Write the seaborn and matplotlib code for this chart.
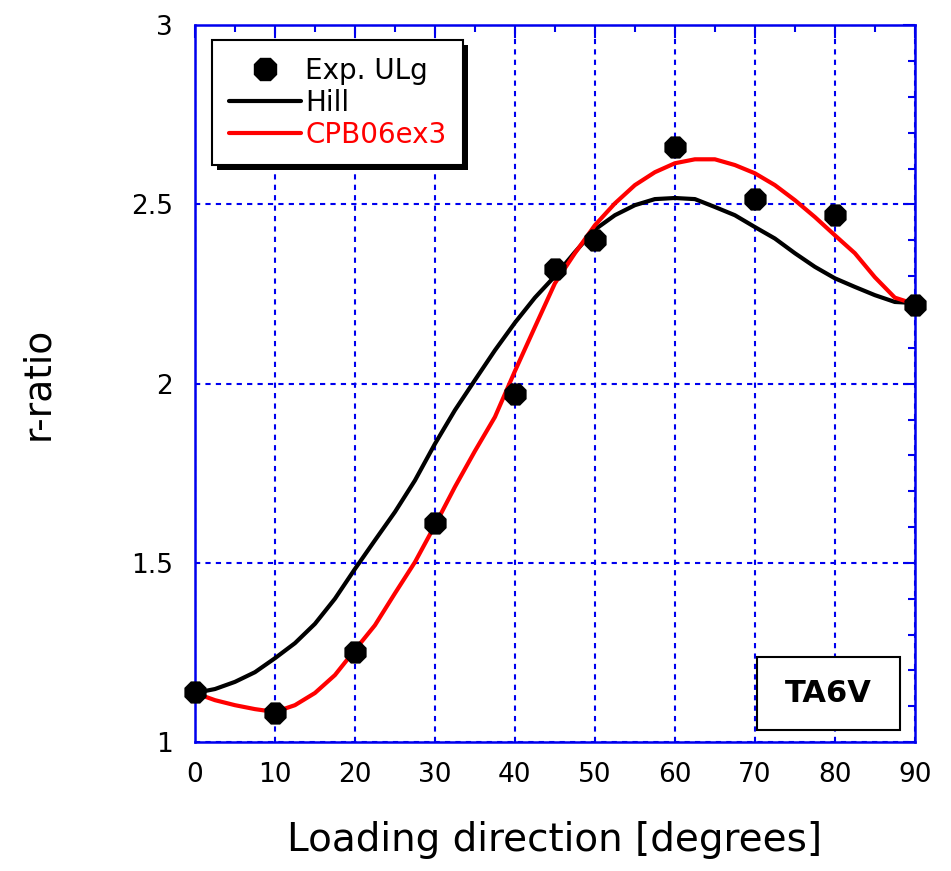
import matplotlib
matplotlib.use("Agg")
import matplotlib.pyplot as plt
from matplotlib.lines import Line2D
from matplotlib.patches import Rectangle
from matplotlib.ticker import MultipleLocator
from matplotlib.transforms import IdentityTransform
import pandas as pd
import seaborn as sns

# Measured r-ratios
exp_angle = [0, 10, 20, 30, 40, 45, 50, 60, 70, 80, 90]
exp_r = [1.14, 1.08, 1.25, 1.61, 1.97, 2.32, 2.40, 2.66, 2.515, 2.47, 2.22]

# Model predictions, sampled every 2.5 degrees
model_angle = [0, 2.5, 5, 7.5, 10, 12.5, 15, 17.5, 20, 22.5, 25, 27.5, 30,
               32.5, 35, 37.5, 40, 42.5, 45, 47.5, 50, 52.5, 55, 57.5, 60,
               62.5, 65, 67.5, 70, 72.5, 75, 77.5, 80, 82.5, 85, 87.5, 90]
hill_r = [1.137, 1.148, 1.168, 1.195, 1.234, 1.276, 1.33, 1.40, 1.483, 1.563,
          1.642, 1.73, 1.832, 1.926, 2.01, 2.093, 2.17, 2.24, 2.30, 2.367,
          2.43, 2.47, 2.498, 2.515, 2.518, 2.515, 2.493, 2.47, 2.437, 2.405,
          2.364, 2.326, 2.294, 2.27, 2.247, 2.228, 2.225]
cpb_r = [1.137, 1.117, 1.103, 1.092, 1.084, 1.103, 1.137, 1.187, 1.257,
         1.326, 1.415, 1.502, 1.605, 1.712, 1.812, 1.907, 2.035, 2.158, 2.28,
         2.364, 2.442, 2.503, 2.554, 2.59, 2.615, 2.626, 2.626, 2.61, 2.587,
         2.554, 2.512, 2.465, 2.414, 2.364, 2.297, 2.24, 2.222]

exp_df = pd.DataFrame({"angle": exp_angle, "r": exp_r})
model_df = pd.DataFrame({"angle": model_angle, "Hill": hill_r, "CPB06ex3": cpb_r})

sns.set_style("white")
plt.rcParams["font.family"] = ["DejaVu Sans"]
plt.rcParams["text.color"] = "black"
plt.rcParams["axes.labelcolor"] = "black"

fig = plt.figure(figsize=(9.51, 8.71), dpi=100)
ax = fig.add_axes([0.205, 0.148, 0.757, 0.823])

sns.lineplot(data=model_df, x="angle", y="Hill", color="black", linewidth=3,
             ax=ax, legend=False, zorder=3)
sns.lineplot(data=model_df, x="angle", y="CPB06ex3", color="#ff0000",
             linewidth=3, ax=ax, legend=False, zorder=3)
sns.scatterplot(data=exp_df, x="angle", y="r", color="black", marker="8",
                s=300, edgecolor="black", linewidth=0, ax=ax, zorder=7,
                legend=False)
for coll in ax.collections:
    coll.set_clip_on(False)

ax.set_xlim(0, 90)
ax.set_ylim(1, 3)
ax.xaxis.set_major_locator(MultipleLocator(10))
ax.xaxis.set_minor_locator(MultipleLocator(5))
ax.yaxis.set_minor_locator(MultipleLocator(0.1))
ax.set_yticks([1, 1.5, 2, 2.5, 3])
ax.set_yticklabels(["1", "1.5", "2", "2.5", "3"])

ax.grid(True, which="major", color="#0000ee", linestyle=(0, (2.5, 2.5)),
        linewidth=1.5)
for side in ax.spines.values():
    side.set_color("#0000ee")
    side.set_linewidth(1.8)

ax.tick_params(which="both", direction="in", top=True, right=True,
               color="#0000ee", width=1.5, labelcolor="black")
ax.tick_params(which="major", length=9, labelsize=19)
ax.tick_params(which="minor", length=5)
ax.tick_params(axis="x", which="major", pad=14)
ax.tick_params(axis="y", which="major", pad=16)

ax.set_xlabel("Loading direction [degrees]", fontsize=28, labelpad=24)
ax.set_ylabel("r-ratio", fontsize=27, labelpad=54)

handles = [
    Line2D([], [], marker="8", color="black", linestyle="none", markersize=17),
    Line2D([], [], color="black", linewidth=3),
    Line2D([], [], color="#ff0000", linewidth=3),
]
leg = ax.legend(handles, ["Exp. ULg", "Hill", "CPB06ex3"], loc="upper left",
                bbox_to_anchor=(0.024, 0.979), borderaxespad=0, fontsize=20,
                handlelength=2.6, handletextpad=0.15, labelspacing=0.14,
                borderpad=0.6, fancybox=False, framealpha=1,
                edgecolor="black")
leg.get_frame().set_linewidth(1.5)
leg.get_texts()[2].set_color("#ff0000")
leg.set_zorder(6)

# Solid drop shadow behind the legend frame
fig.canvas.draw()
bb = leg.get_window_extent()
shadow = Rectangle((bb.x0 + 5, bb.y0 - 5), bb.width, bb.height,
                   transform=IdentityTransform(), facecolor="black",
                   edgecolor="none", zorder=5.5, clip_on=False)
ax.add_artist(shadow)

ax.add_patch(Rectangle((0.781, 0.017), 0.198, 0.102, transform=ax.transAxes,
                       facecolor="white", edgecolor="black", linewidth=1.5,
                       zorder=5))
ax.text(0.88, 0.068, "TA6V", transform=ax.transAxes, ha="center", va="center",
        fontsize=22, fontweight="bold", zorder=6)

fig.savefig("out.png", dpi=100)
